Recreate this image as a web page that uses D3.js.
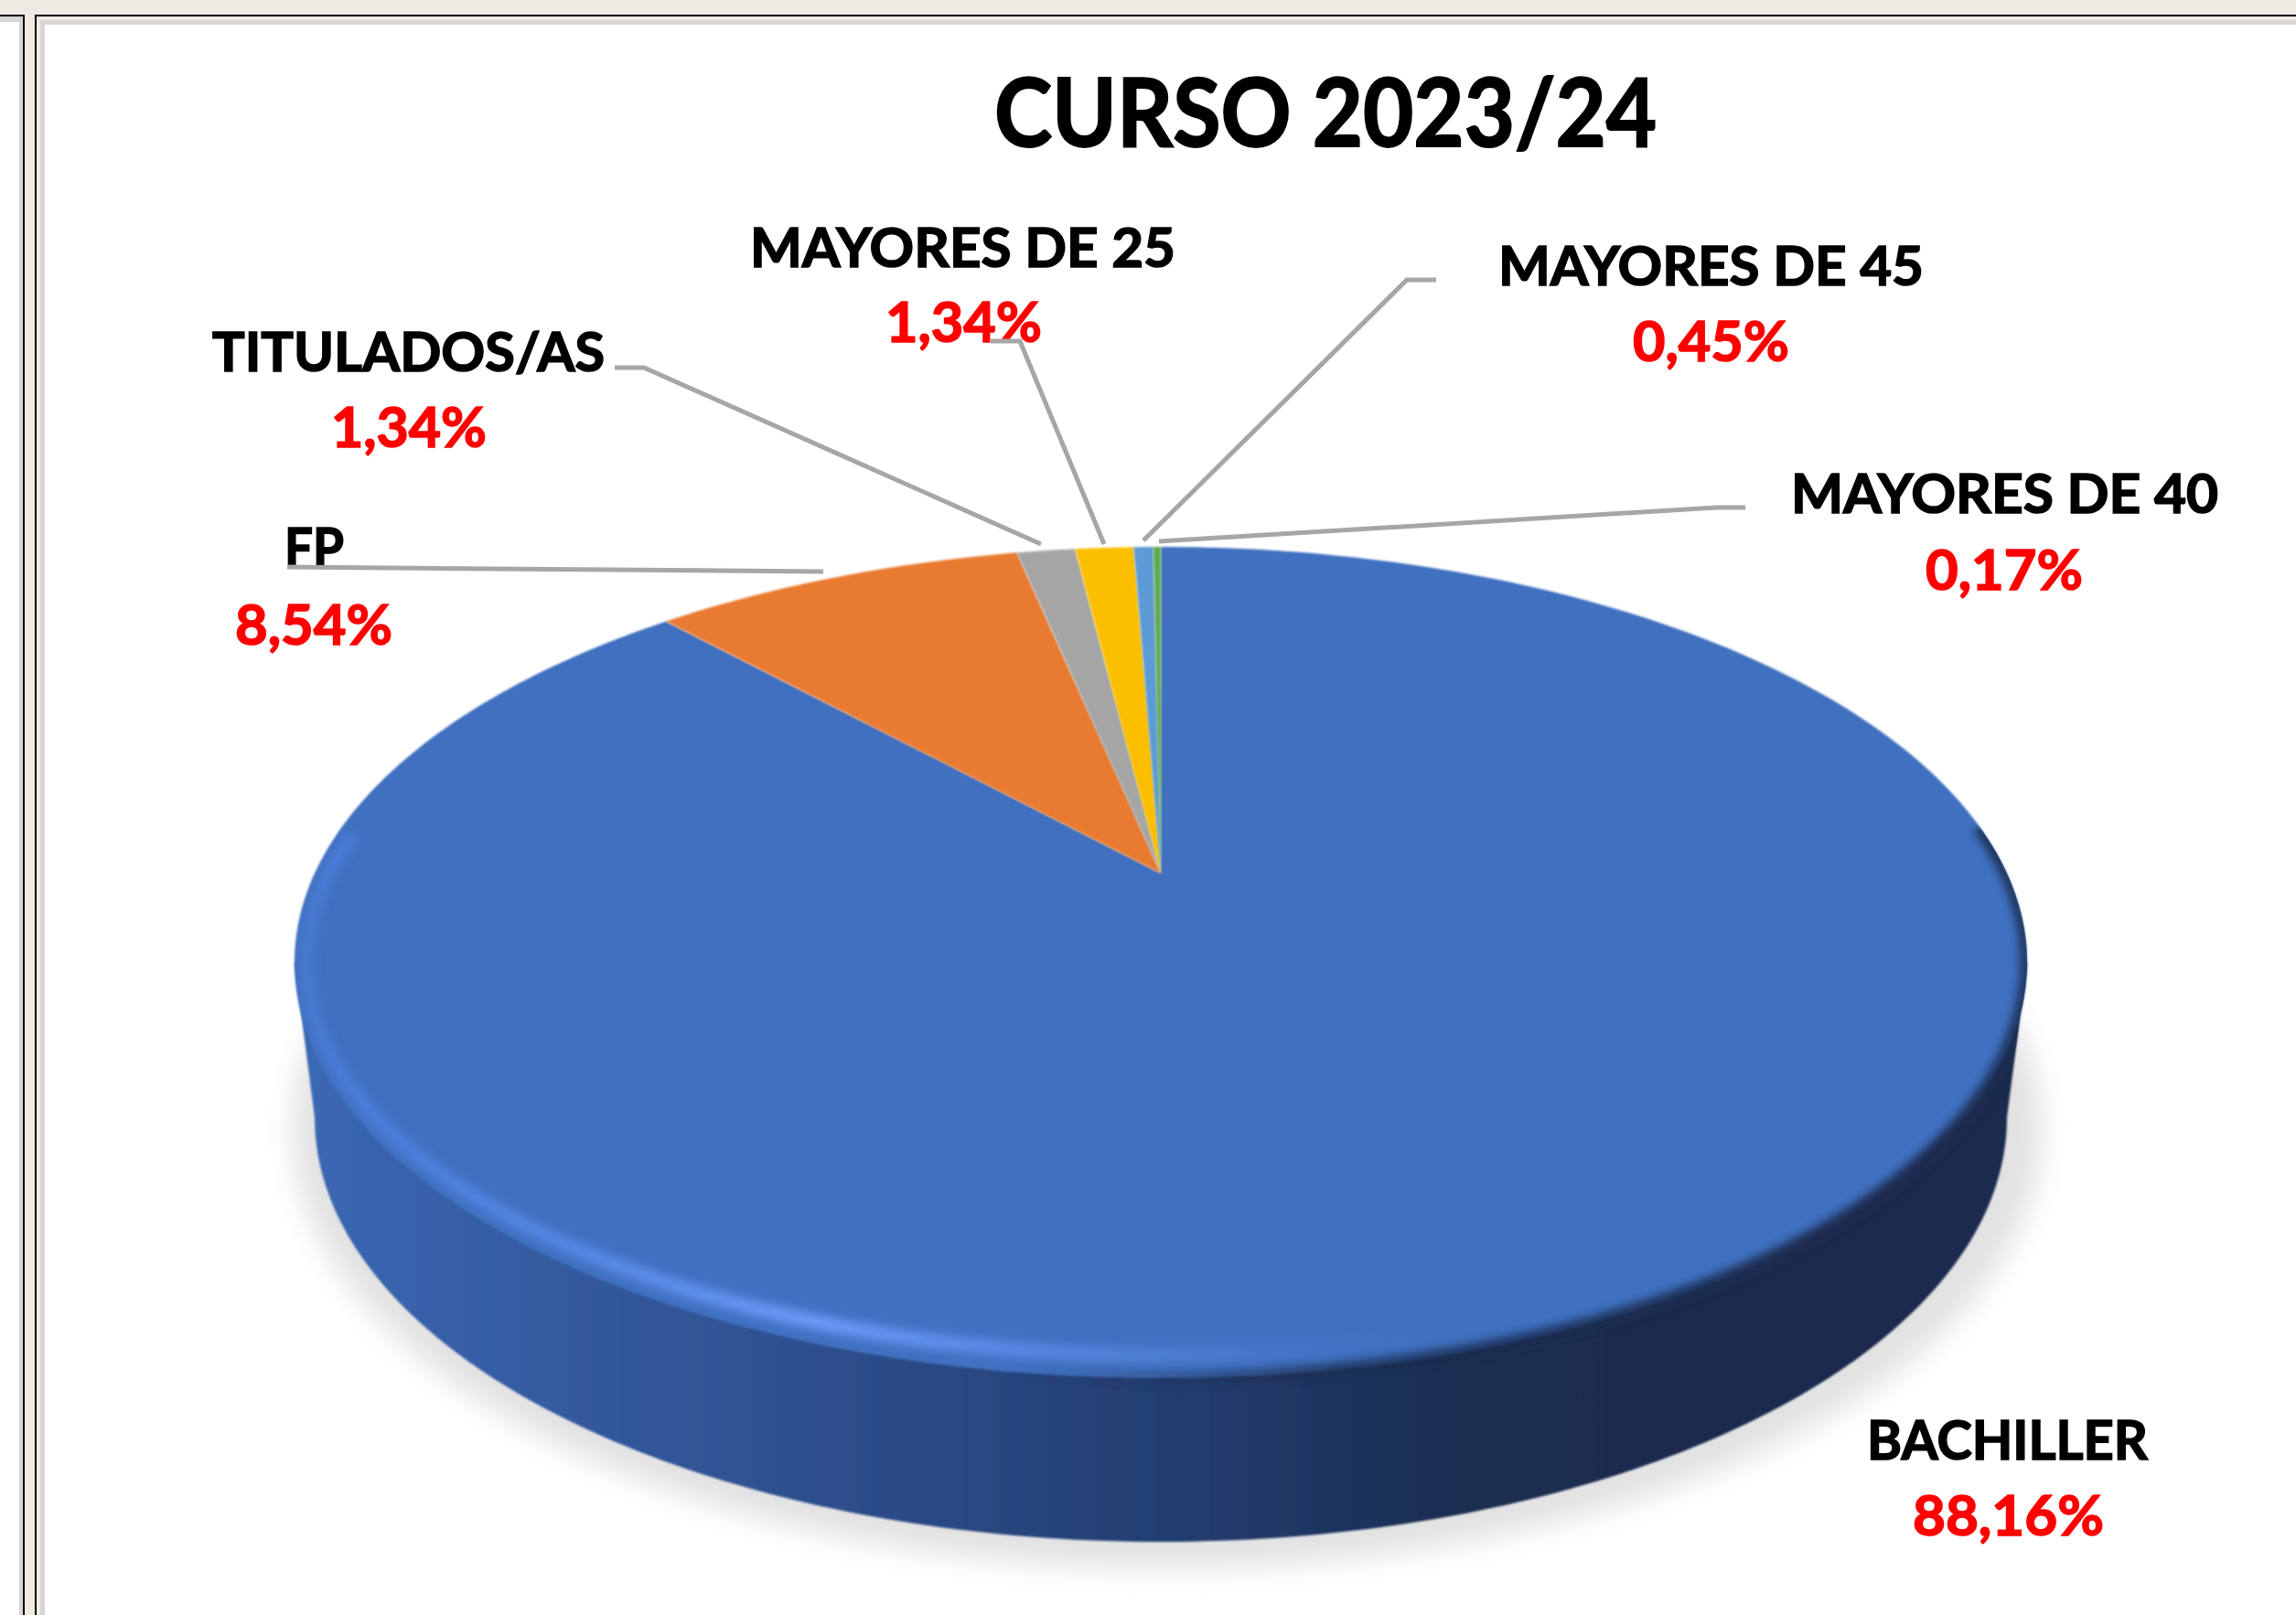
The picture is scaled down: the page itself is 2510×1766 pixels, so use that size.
<!DOCTYPE html>
<html><head><meta charset="utf-8">
<script src="https://cdn.jsdelivr.net/npm/d3@7"></script>
<style>html,body{margin:0;padding:0;background:#fff;overflow:hidden}svg{display:block}</style>
</head><body><svg id="c" width="2510" height="1766"></svg>
<script>
const categories=["BACHILLER","FP","TITULADOS/AS","MAYORES DE 25","MAYORES DE 45","MAYORES DE 40"];
const values=[88.16,8.54,1.34,1.34,0.45,0.17];
const valueLabels=["88,16%","8,54%","1,34%","1,34%","0,45%","0,17%"];
const colors=["#4070bf","#e97a30","#a5a5a5","#fcbf00","#5b9bd5","#5fa94f"];
const titleText="CURSO 2023/24";

// layout (separate from the data)
const labelBox=[ // name x0,x1,baseline ; value x0,x1,baseline
 [2041,2348,1596, 2091,2300,1679],
 [311,376,620, 257,429,705],
 [232,661,405.5, 362,532,489],
 [820,1285,291.5, 968,1139,374],
 [1638,2103,312, 1785,1956,395],
 [1958,2425,560.5, 2105,2277,645]];
const leaders=[null,
 [[314,620],[900,625]],
 [[672,402],[704,402],[1138,595]],
 [[1083,373],[1115,373],[1207,595]],
 [[1570,306],[1538,306],[1250,591]],
 [[1908,555],[1876,555],[1267,592]]];

const svg=d3.select("#c");
const defs=svg.append("defs");
const W=2510,H=1766;

// window frame
svg.append("rect").attr("width",W).attr("height",H).attr("fill","#eee9e2");
svg.append("rect").attr("x",-10).attr("y",16).attr("width",37).attr("height",H).attr("fill","#000");
svg.append("rect").attr("x",-10).attr("y",18).attr("width",35).attr("height",H).attr("fill","#d6d6d6");
svg.append("rect").attr("x",-10).attr("y",24).attr("width",31).attr("height",H).attr("fill","#fff");
svg.append("rect").attr("x",38).attr("y",16).attr("width",W).attr("height",H).attr("fill","#000");
svg.append("rect").attr("x",40).attr("y",18).attr("width",W).attr("height",H).attr("fill","#eee9e2");
svg.append("rect").attr("x",44).attr("y",22).attr("width",W).attr("height",H).attr("fill","#d6d6d6");
svg.append("rect").attr("x",49).attr("y",27).attr("width",W).attr("height",H).attr("fill","#fff");

// perspective projection of the flat pie disc
const apex=[1269,955],k=0.2145,a=925,b=433.6;
const project=t=>{const u=Math.sin(t),v=-Math.cos(t),w=1-k*v;return [apex[0]+a*u/w,apex[1]+b*v/w];};
const line=d3.line();
const sample=(t0,t1,n)=>d3.range(n+1).map(i=>project(t0+(t1-t0)*i/n));
const pie=d3.pie().sort(null).value(d=>d)(values);
const rimPts=sample(0,2*Math.PI,360);
const rim=line(rimPts)+"Z";
const xExt=d3.extent(rimPts,p=>p[0]),yExt=d3.extent(rimPts,p=>p[1]);
const mid=[(xExt[0]+xExt[1])/2,(yExt[0]+yExt[1])/2],rx=(xExt[1]-xExt[0])/2,ry=(yExt[1]-yExt[0])/2;

// blur filters
const blur=(id,s)=>defs.append("filter").attr("id",id).attr("x","-20%").attr("y","-20%").attr("width","140%").attr("height","140%")
  .append("feGaussianBlur").attr("stdDeviation",s);
blur("bShadow",15);blur("bRim",6);blur("bDark",5);blur("bEdge",1);

// horizontal gradients across the disc
const grad=(id,stops)=>{const g=defs.append("linearGradient").attr("id",id).attr("gradientUnits","userSpaceOnUse")
  .attr("x1",320).attr("x2",2220).attr("y1",0).attr("y2",0);
  stops.forEach(s=>g.append("stop").attr("offset",s[0]).attr("stop-color",s[1]).attr("stop-opacity",s[2]===undefined?1:s[2]));};
grad("side",[[0,"#3b68b4"],[0.147,"#355ba0"],[0.347,"#2c4b88"],[0.516,"#233d70"],[0.674,"#1b2d50"],[1,"#1b2c50"]]);
grad("hl",[[0,"#4c80de",0.55],[0.04,"#4c80de",0.9],[0.15,"#5588e6",1],[0.3,"#6f9fff",1],[0.42,"#5a8be8",1],[0.54,"#4c7ed6",0.8],[0.66,"#4472c4",0]]);
grad("dk",[[0,"#1b2c50",0],[0.42,"#1b2c50",0],[0.6,"#1b2c50",0.75],[0.95,"#1b2c50",1],[1,"#1b2c50",0.8]]);

// ground shadow
const bottom={cx:1269,cy:1222,rx:925,ry:464};
svg.append("ellipse").attr("cx",1276).attr("cy",1235).attr("rx",956).attr("ry",480)
 .attr("fill","#e2e2e2").attr("filter","url(#bShadow)");

// side wall
const bottomPts=d3.range(0,181).map(i=>{const t=i*Math.PI/180;return [bottom.cx+bottom.rx*Math.cos(t),bottom.cy+bottom.ry*Math.sin(t)];});
const sidePath=line([[xExt[1],mid[1]],...bottomPts,[xExt[0],mid[1]]])+"Z";
svg.append("path").attr("d",sidePath).attr("fill","url(#side)").attr("filter","url(#bEdge)");

// top face slices
const slices=svg.append("g");
slices.selectAll("path").data(pie).join("path")
 .attr("d",d=>line([apex,...sample(d.startAngle,d.endAngle,Math.max(4,Math.ceil((d.endAngle-d.startAngle)*60)))])+"Z")
 .attr("fill",(d,i)=>colors[i]).attr("filter","url(#bEdge)");

// bevel on the front rim
const cp=defs.append("clipPath").attr("id","solid");
cp.append("path").attr("d",sidePath);cp.append("path").attr("d",rim);
const front=sample(Math.PI/2-0.12,3*Math.PI/2+0.12,240);
const inset=front.map(p=>[mid[0]+(p[0]-mid[0])*(rx-13)/rx,mid[1]+(p[1]-mid[1])*(ry-25)/ry]);
const bevel=svg.append("g").attr("clip-path","url(#solid)");
bevel.append("path").attr("d",line(front)).attr("fill","none").attr("stroke","url(#dk)").attr("stroke-width",16).attr("filter","url(#bDark)");
bevel.append("path").attr("d",line(inset)).attr("fill","none").attr("stroke","url(#hl)").attr("stroke-width",15).attr("filter","url(#bRim)");

// texts
const font="Lato, 'Open Sans', sans-serif";
const fit=(x0,x1,y,str,size,fill)=>svg.append("text").attr("x",x0).attr("y",y).attr("textLength",x1-x0).attr("lengthAdjust","spacingAndGlyphs")
  .attr("font-family",font).attr("font-weight",700).attr("font-size",size).attr("fill",fill)
  .attr("stroke",fill).attr("stroke-width",size>80?2:1.6).text(str);
fit(1087,1811,160,titleText,104,"#000");
categories.forEach((c,i)=>{const l=labelBox[i];
 fit(l[0],l[1],l[2],c,60,"#000");
 fit(l[3],l[4],l[5],valueLabels[i],62,"#ff0000");});

// leader lines
svg.append("g").selectAll("path").data(leaders.filter(Boolean)).join("path")
 .attr("d",line).attr("fill","none").attr("stroke","#a6a6a6").attr("stroke-width",5);
</script></body></html>
